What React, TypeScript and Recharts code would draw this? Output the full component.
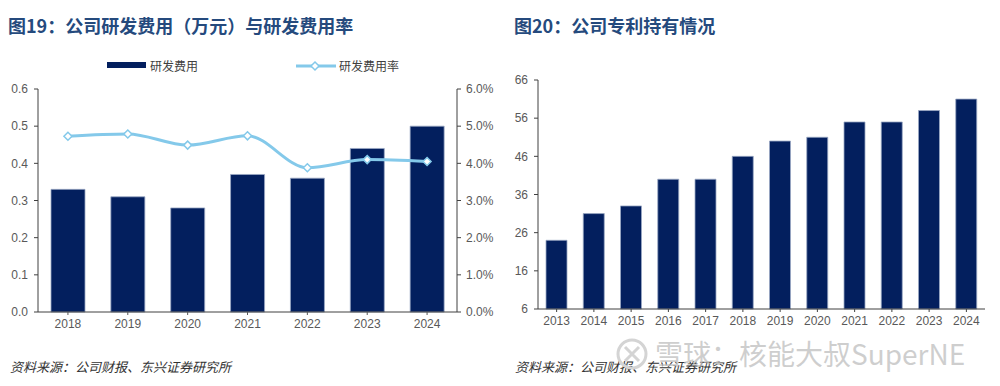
import {
  ComposedChart,
  BarChart,
  Bar,
  Line,
  XAxis,
  YAxis,
} from 'recharts'

// 图19 data
const rdYears = ['2018', '2019', '2020', '2021', '2022', '2023', '2024']
const rdExpense = [0.33, 0.31, 0.28, 0.37, 0.36, 0.44, 0.5]
const rdRate = [4.73, 4.79, 4.49, 4.74, 3.88, 4.1, 4.05]
const leftTicks = [0, 0.1, 0.2, 0.3, 0.4, 0.5, 0.6]
const rightTicks = [0, 1, 2, 3, 4, 5, 6]

// 图20 data
const patentYears = ['2013', '2014', '2015', '2016', '2017', '2018', '2019', '2020', '2021', '2022', '2023', '2024']
const patents = [24, 31, 33, 40, 40, 46, 50, 51, 55, 55, 58, 61]
const patentTicks = [6, 16, 26, 36, 46, 56, 66]

const NAVY = '#031f5e'
const SKY = '#84c9ea'
const AXIS = '#595959'
const TICK_FONT = { fontSize: 12, fill: AXIS, fontFamily: '"Liberation Sans", Arial, sans-serif' }
const CJK = '"Noto Sans CJK SC", sans-serif'

const rdData = rdYears.map((year, i) => ({ year, expense: rdExpense[i], rate: rdRate[i] }))
const patentData = patentYears.map((year, i) => ({ year, count: patents[i] }))

function Diamond(props: any) {
  const { cx, cy } = props
  if (cx == null || cy == null) return null
  const r = 4
  return (
    <polygon
      points={`${cx},${cy - r} ${cx + r},${cy} ${cx},${cy + r} ${cx - r},${cy}`}
      fill="#fff"
      stroke={SKY}
      strokeWidth={1.5}
    />
  )
}

export default function App() {
  return (
    <div style={{ position: 'absolute', left: 0, top: 0, width: 1000, height: 386, background: '#fff', overflow: 'hidden' }}>
      {/* titles */}
      <div style={{ position: 'absolute', left: 8, top: 12, fontFamily: CJK, fontWeight: 700, fontSize: 18, color: '#254a7d', whiteSpace: 'nowrap' }}>
        图19：公司研发费用（万元）与研发费用率
      </div>
      <div style={{ position: 'absolute', left: 514, top: 12, fontFamily: CJK, fontWeight: 700, fontSize: 18, color: '#254a7d', whiteSpace: 'nowrap' }}>
        图20：公司专利持有情况
      </div>

      {/* legend for 图19 */}
      <div style={{ position: 'absolute', left: 107, top: 62, width: 39, height: 6, background: NAVY }} />
      <div style={{ position: 'absolute', left: 150, top: 57, fontFamily: CJK, fontSize: 12, color: '#404040' }}>研发费用</div>
      <svg style={{ position: 'absolute', left: 294, top: 58 }} width={44} height={16}>
        <line x1={2} y1={8} x2={42} y2={8} stroke={SKY} strokeWidth={3} />
        <polygon points="21,4 25,8 21,12 17,8" fill="#fff" stroke={SKY} strokeWidth={1.5} />
      </svg>
      <div style={{ position: 'absolute', left: 339, top: 57, fontFamily: CJK, fontSize: 12, color: '#404040' }}>研发费用率</div>

      <div style={{ position: 'absolute', left: 0, top: 0 }}>
        <ComposedChart width={500} height={386} data={rdData} margin={{ top: 89, right: 0, bottom: 0, left: 0 }}>
          <XAxis
            dataKey="year"
            height={74}
            tick={TICK_FONT}
            tickSize={3}
            tickMargin={4}
            stroke={AXIS}
            axisLine={{ stroke: '#404040' }}
          />
          <YAxis
            yAxisId="left"
            width={38}
            domain={[0, 0.6]}
            ticks={leftTicks}
            tickFormatter={(v: number) => v.toFixed(1)}
            tick={TICK_FONT}
            tickSize={4}
            tickMargin={6}
            stroke="#404040"
          />
          <YAxis
            yAxisId="right"
            orientation="right"
            width={43}
            domain={[0, 6]}
            ticks={rightTicks}
            tickFormatter={(v: number) => `${v.toFixed(1)}%`}
            tick={TICK_FONT}
            tickSize={4}
            tickMargin={5}
            stroke="#404040"
          />
          <Bar yAxisId="left" dataKey="expense" barSize={34} fill={NAVY} stroke="#9aa8c4" strokeWidth={0.8} isAnimationActive={false} />
          <Line
            yAxisId="right"
            type="monotone"
            dataKey="rate"
            stroke={SKY}
            strokeWidth={3}
            dot={<Diamond />}
            activeDot={false}
            isAnimationActive={false}
          />
        </ComposedChart>
      </div>

      <div style={{ position: 'absolute', left: 500, top: 0 }}>
        <BarChart width={500} height={386} data={patentData} margin={{ top: 80, right: 15, bottom: 0, left: 0 }}>
          <XAxis
            dataKey="year"
            height={77}
            tick={TICK_FONT}
            tickSize={3}
            tickMargin={4}
            stroke="#404040"
          />
          <YAxis
            width={38}
            domain={[6, 66]}
            ticks={patentTicks}
            tick={TICK_FONT}
            tickSize={4}
            tickMargin={6}
            stroke="#404040"
          />
          <Bar dataKey="count" barSize={21} fill={NAVY} stroke="#9aa8c4" strokeWidth={0.8} isAnimationActive={false} />
        </BarChart>
      </div>

      {/* sources */}
      <div style={{ position: 'absolute', left: 10, top: 357, fontFamily: CJK, fontStyle: 'italic', fontSize: 13, color: '#333' }}>
        资料来源：公司财报、东兴证券研究所
      </div>
      <div style={{ position: 'absolute', left: 515, top: 357, fontFamily: CJK, fontStyle: 'italic', fontSize: 13, color: '#333' }}>
        资料来源：公司财报、东兴证券研究所
      </div>

      {/* watermark */}
      <svg style={{ position: 'absolute', left: 615, top: 337 }} width={34} height={34}>
        <circle cx={17} cy={17} r={14} fill="none" stroke="#d4d4d4" strokeWidth={3} />
        <path d="M10 10 L24 24 M24 10 L10 24" stroke="#d4d4d4" strokeWidth={3} />
      </svg>
      <div style={{ position: 'absolute', left: 655, top: 335, fontFamily: CJK, fontSize: 28, color: 'rgba(190,190,190,0.75)', whiteSpace: 'nowrap', lineHeight: '36px' }}>
        雪球：核能大叔SuperNE
      </div>
    </div>
  )
}
